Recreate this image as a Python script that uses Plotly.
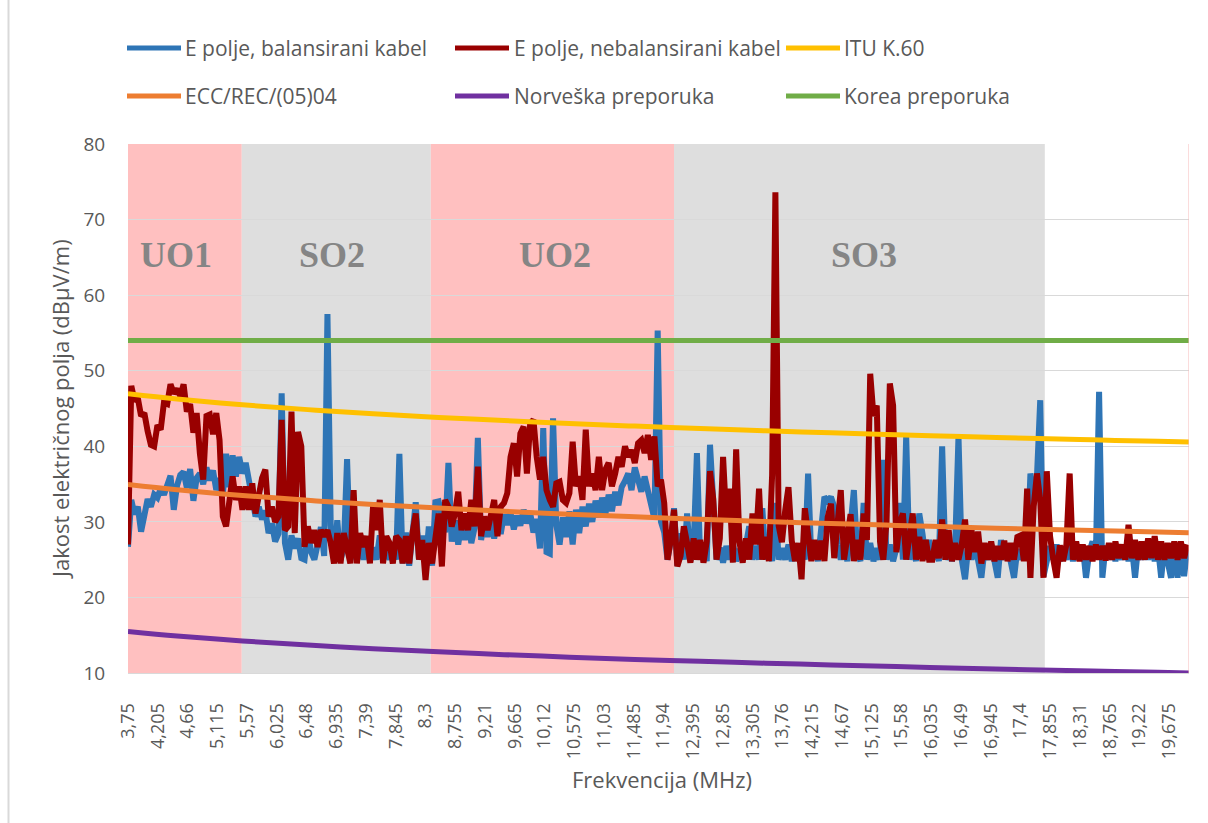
import numpy as np
import plotly.graph_objects as go

# ---------------------------------------------------------------------------
# Measurement grid
# ---------------------------------------------------------------------------
FREQ_START = 3.75   # MHz, first sample
FREQ_STEP = 0.05    # MHz between samples

# Electric field strength, balanced cable (dBuV/m), rows of 0.5 MHz
e_balanced = [
    26.7, 32.9, 31.0, 32.0, 28.7, 30.5, 33.0, 32.0, 33.6, 33.2,
    34.4, 33.6, 34.6, 36.1, 31.6, 34.8, 36.2, 36.6, 34.5, 37.0,
    32.8, 35.8, 36.4, 35.0, 37.2, 35.5, 36.8, 34.2, 35.8, 33.5,
    39.0, 34.6, 38.8, 36.0, 38.6, 36.4, 37.8, 35.2, 33.8, 30.7,
    32.0, 30.3, 31.5, 28.5, 29.8, 27.4, 28.4, 47.0, 27.2, 25.0,
    28.2, 26.5, 27.8, 25.2, 25.0, 28.8, 26.0, 25.0, 27.0, 29.3,
    25.5, 57.5, 29.5, 25.0, 30.2, 25.0, 26.5, 38.3, 25.0, 27.5,
    25.0, 26.8, 25.0, 27.4, 24.8, 26.6, 25.0, 28.2, 25.0, 26.4,
    25.0, 27.0, 25.0, 39.0, 24.5, 28.6, 24.2, 29.5, 32.6, 25.0,
    28.2, 24.2, 29.4, 24.2, 32.6, 32.7, 31.0, 28.6, 37.8, 27.4,
    30.2, 27.0, 29.8, 27.6, 30.6, 27.2, 29.2, 41.1, 27.6, 30.4,
    28.0, 30.2, 27.8, 30.6, 28.4, 31.0, 29.6, 31.2, 29.0, 30.8,
    29.5, 31.6, 29.8, 31.2, 28.6, 30.4, 26.5, 42.4, 26.0, 25.8,
    43.7, 29.6, 27.0, 30.6, 28.0, 31.4, 27.0, 31.6, 28.5, 32.0,
    29.4, 32.4, 30.0, 32.8, 30.6, 33.2, 31.0, 33.6, 31.4, 34.0,
    32.2, 34.6, 35.4, 36.4, 34.2, 37.2, 35.6, 34.0, 36.0, 33.8,
    32.0, 30.4, 55.3, 30.0, 28.6, 25.0, 27.5, 31.8, 24.2, 28.5,
    25.0, 31.1, 24.8, 26.8, 39.1, 25.0, 27.0, 24.8, 40.2, 32.5,
    25.0, 26.6, 24.6, 26.8, 25.0, 27.2, 24.8, 26.4, 25.0, 27.0,
    29.4, 25.0, 26.8, 25.0, 31.8, 25.0, 26.8, 24.8, 32.5, 25.0,
    26.5, 25.0, 27.0, 24.8, 26.6, 25.0, 27.0, 25.0, 36.4, 25.0,
    26.8, 24.8, 29.0, 33.3, 32.8, 33.3, 32.0, 27.0, 25.0, 27.4,
    24.8, 29.5, 34.2, 26.0, 24.8, 32.5, 25.0, 27.2, 24.8, 26.5,
    25.0, 38.2, 25.0, 27.0, 24.8, 26.5, 32.5, 25.0, 41.3, 25.0,
    27.0, 24.8, 31.1, 28.4, 25.0, 27.6, 25.0, 27.0, 24.8, 40.0,
    25.0, 26.6, 24.8, 27.0, 41.3, 25.0, 22.4, 26.8, 25.0, 27.2,
    24.8, 22.6, 26.5, 25.0, 27.0, 25.0, 22.6, 27.6, 25.0, 26.8,
    24.8, 22.6, 26.4, 25.0, 27.0, 25.0, 36.4, 33.0, 36.0, 46.1,
    22.8, 25.0, 26.8, 25.0, 27.0, 24.8, 26.6, 25.0, 27.0, 24.8,
    26.6, 25.0, 26.8, 22.6, 26.0, 27.4, 25.0, 47.2, 22.6, 26.8,
    25.0, 27.0, 24.8, 26.6, 25.0, 27.0, 24.8, 26.8, 22.6, 27.0,
    25.0, 26.8, 25.0, 27.0, 24.8, 26.6, 22.6, 26.8, 25.0, 22.6,
    26.8, 22.6, 27.0, 22.8, 26.6,
]

# Electric field strength, unbalanced cable (dBuV/m), same grid
e_unbalanced = [
    27.0, 48.0, 46.0, 46.4, 44.0, 44.4, 42.0, 40.2, 40.0, 42.8,
    42.2, 45.8, 45.6, 48.2, 47.0, 47.6, 46.6, 48.2, 44.6, 45.6,
    41.8, 44.4, 39.0, 35.6, 44.0, 44.2, 41.6, 44.4, 40.8, 30.7,
    29.4, 33.3, 36.0, 32.9, 34.7, 31.6, 34.7, 31.6, 35.1, 31.1,
    33.3, 35.8, 36.9, 30.7, 32.0, 30.0, 30.7, 43.5, 28.9, 29.4,
    44.6, 28.5, 41.9, 40.0, 26.7, 29.4, 27.2, 28.9, 26.7, 28.9,
    28.1, 28.9, 27.2, 24.5, 28.5, 24.5, 28.5, 26.7, 24.5, 34.2,
    24.5, 28.5, 26.7, 28.1, 24.5, 32.5, 28.9, 32.9, 24.5, 28.1,
    27.2, 24.5, 28.1, 27.6, 24.5, 28.1, 24.5, 28.5, 31.1, 25.0,
    27.6, 22.3, 27.2, 24.5, 27.2, 31.1, 24.1, 32.9, 32.0, 29.4,
    31.1, 34.0, 28.9, 31.1, 28.9, 32.9, 29.4, 37.3, 28.1, 30.7,
    28.9, 31.1, 32.9, 28.1, 32.0, 32.5, 33.8, 38.6, 40.4, 36.0,
    41.7, 42.6, 36.4, 43.0, 43.5, 38.6, 35.6, 38.6, 34.2, 32.9,
    32.0, 35.1, 35.3, 32.9, 32.5, 33.8, 40.6, 34.7, 36.0, 32.9,
    42.2, 34.7, 36.4, 34.2, 38.6, 34.2, 36.9, 37.8, 34.7, 36.4,
    38.6, 37.3, 40.0, 38.6, 39.5, 37.8, 40.4, 40.8, 39.1, 41.5,
    38.2, 41.3, 34.7, 35.6, 32.5, 25.0, 27.6, 31.6, 24.1, 25.5,
    29.4, 27.2, 24.6, 27.8, 25.0, 27.6, 24.6, 27.4, 36.7, 33.0,
    25.0, 27.8, 38.6, 30.0, 34.4, 24.6, 39.6, 27.4, 24.6, 27.8,
    25.0, 31.1, 27.0, 34.4, 25.0, 28.0, 24.8, 36.2, 73.6, 29.5,
    27.3, 31.5, 34.6, 27.5, 24.8, 27.2, 22.4, 31.8, 27.8, 24.8,
    27.6, 25.0, 27.5, 24.8, 30.6, 32.4, 25.2, 29.5, 34.2, 25.0,
    27.6, 31.0, 24.8, 27.6, 25.0, 31.1, 27.6, 49.6, 44.0, 45.4,
    27.4, 25.0, 30.0, 48.3, 45.4, 26.0, 29.8, 31.1, 25.0, 27.6,
    31.1, 25.0, 28.0, 24.8, 27.6, 25.0, 25.0, 27.6, 25.2, 30.3,
    25.0, 28.9, 24.8, 27.2, 25.0, 27.0, 30.3, 25.0, 28.9, 26.0,
    28.7, 24.5, 27.2, 25.0, 27.4, 24.8, 26.8, 25.0, 27.5, 24.8,
    27.2, 25.0, 28.0, 28.2, 24.8, 34.4, 22.6, 32.0, 36.4, 32.9,
    22.6, 36.7, 28.1, 25.0, 22.6, 26.9, 24.8, 27.0, 36.4, 25.0,
    27.4, 24.8, 27.0, 25.0, 26.8, 24.8, 27.0, 25.0, 26.8, 24.9,
    27.2, 25.0, 27.4, 25.2, 27.0, 25.0, 29.6, 25.2, 27.6, 25.0,
    27.4, 25.0, 27.8, 25.2, 28.1, 25.0, 27.4, 25.0, 27.2, 25.2,
    27.4, 25.0, 27.4, 25.2, 27.0,
]

freq = np.round(FREQ_START + FREQ_STEP * np.arange(len(e_balanced)), 3)

# Limit curves (dBuV/m)
limit_freq = [3.75, 4.5, 5.5, 6.5, 7.5, 8.5, 9.5, 10.5, 11.5, 12.5,
              13.5, 14.5, 15.5, 16.5, 17.5, 18.5, 19.5, 19.975]
itu_k60 = [46.95, 46.25, 45.49, 44.85, 44.30, 43.82, 43.40, 43.01, 42.67, 42.35,
           42.05, 41.78, 41.53, 41.29, 41.06, 40.85, 40.65, 40.56]
ecc_rec = [34.95, 34.25, 33.49, 32.85, 32.30, 31.82, 31.40, 31.01, 30.67, 30.35,
           30.05, 29.78, 29.53, 29.29, 29.06, 28.85, 28.65, 28.56]
norway = [15.50, 14.90, 14.24, 13.69, 13.21, 12.80, 12.43, 12.10, 11.80, 11.55,
          11.30, 11.07, 10.85, 10.64, 10.44, 10.26, 10.09, 10.00]
korea_freq = [3.75, 19.975]
korea = [54.0, 54.0]

# Frequency bands shaded in the background
band_names = ["UO1", "SO2", "UO2", "SO3"]
band_start = [3.75, 5.49, 8.38, 12.10]
band_end = [5.49, 8.38, 12.10, 17.77]
band_label_freq = [4.48, 6.87, 10.28, 15.00]

tick_labels = ["3,75", "4,205", "4,66", "5,115", "5,57", "6,025", "6,48", "6,935",
               "7,39", "7,845", "8,3", "8,755", "9,21", "9,665", "10,12", "10,575",
               "11,03", "11,485", "11,94", "12,395", "12,85", "13,305", "13,76",
               "14,215", "14,67", "15,125", "15,58", "16,035", "16,49", "16,945",
               "17,4", "17,855", "18,31", "18,765", "19,22", "19,675"]
tick_vals = [float(t.replace(",", ".")) for t in tick_labels]

# ---------------------------------------------------------------------------
# Figure geometry
# ---------------------------------------------------------------------------
W, H = 1208, 823
PL, PR, PT, PB = 128, 19, 144, 150
X_MAX = 19.975
TEXT = "#595959"
FONT = "Open Sans"


def px_x(px):
    return (px - PL) / (W - PL - PR)


def px_y(py):
    return (H - PB - py) / (H - PT - PB)


series = [
    dict(name="E polje, balansirani kabel", x=freq, y=e_balanced, color="#2E75B6", width=6),
    dict(name="E polje, nebalansirani kabel", x=freq, y=e_unbalanced, color="#990000", width=6),
    dict(name="ITU K.60", x=limit_freq, y=itu_k60, color="#FFC000", width=5),
    dict(name="ECC/REC/(05)04", x=limit_freq, y=ecc_rec, color="#ED7D31", width=5),
    dict(name="Norveška preporuka", x=limit_freq, y=norway, color="#7030A0", width=5),
    dict(name="Korea preporuka", x=korea_freq, y=korea, color="#70AD47", width=5),
]

fig = go.Figure()
for s in series:
    smooth = len(s["x"]) < 50
    fig.add_trace(go.Scatter(
        x=s["x"], y=s["y"], name=s["name"], mode="lines",
        line=dict(color=s["color"], width=s["width"],
                  shape="spline" if smooth else "linear"),
        showlegend=False,
    ))

shapes = []
band_fill = ["#FFC0C0", "#DEDEDE", "#FFC0C0", "#DEDEDE"]
for x0, x1, c in zip(band_start, band_end, band_fill):
    shapes.append(dict(type="rect", xref="x", yref="y", x0=x0, x1=x1, y0=10, y1=80,
                       fillcolor=c, line=dict(width=0), layer="below"))
# thin edge on the right of the plot area
shapes.append(dict(type="line", xref="x", yref="y", x0=X_MAX, x1=X_MAX, y0=10, y1=80,
                   line=dict(color="#F6B8B8", width=1), layer="above"))
# chart frame on the left
shapes.append(dict(type="line", xref="paper", yref="paper",
                   x0=px_x(8.5), x1=px_x(8.5), y0=px_y(823), y1=px_y(0),
                   line=dict(color="#D9D9D9", width=2)))

annotations = []
for name, fx in zip(band_names, band_label_freq):
    annotations.append(dict(x=fx, y=65.3, xref="x", yref="y", text=f"<b>{name}</b>",
                            showarrow=False, xanchor="center", yanchor="middle",
                            font=dict(family="Liberation Serif", size=36, color="#858585")))

# legend, three entries per row
legend_cols = [(127, 181, 183), (455, 509, 512), (786, 840, 842)]
legend_rows = [48, 96]
for i, s in enumerate(series):
    lx0, lx1, tx = legend_cols[i % 3]
    ly = legend_rows[i // 3]
    shapes.append(dict(type="line", xref="paper", yref="paper",
                       x0=px_x(lx0), x1=px_x(lx1), y0=px_y(ly), y1=px_y(ly),
                       line=dict(color=s["color"], width=5)))
    annotations.append(dict(x=px_x(tx), y=px_y(ly), xref="paper", yref="paper",
                            text=s["name"], showarrow=False, xanchor="left", yanchor="middle",
                            font=dict(family=FONT, size=21, color=TEXT)))

# axis titles
annotations.append(dict(x=px_x(662), y=px_y(779), xref="paper", yref="paper",
                        text="Frekvencija (MHz)", showarrow=False,
                        xanchor="center", yanchor="middle",
                        font=dict(family=FONT, size=22, color=TEXT)))
annotations.append(dict(x=px_x(60), y=px_y(409), xref="paper", yref="paper",
                        text="Jakost električnog polja (dBµV/m)", showarrow=False,
                        xanchor="center", yanchor="middle",
                        textangle=-90, font=dict(family=FONT, size=22, color=TEXT)))

fig.update_layout(
    width=W, height=H,
    margin=dict(l=PL, r=PR, t=PT, b=PB),
    paper_bgcolor="white", plot_bgcolor="white",
    showlegend=False,
    shapes=shapes, annotations=annotations,
    font=dict(family=FONT, color=TEXT),
)
fig.update_xaxes(
    range=[FREQ_START, X_MAX], tickmode="array", tickvals=tick_vals, ticktext=tick_labels,
    tickangle=-90, tickfont=dict(family=FONT, size=18, color=TEXT),
    showgrid=False, zeroline=False, showline=True, linecolor="#D9D9D9", linewidth=1,
    ticks="outside", ticklen=22, tickcolor="rgba(0,0,0,0)", automargin=False,
)
fig.update_yaxes(
    range=[10, 80], tickmode="array", tickvals=list(range(10, 81, 10)),
    tickfont=dict(family=FONT, size=19, color=TEXT),
    showgrid=True, gridcolor="#D9D9D9", gridwidth=1, zeroline=False, showline=False,
    ticks="outside", ticklen=18, tickcolor="rgba(0,0,0,0)", automargin=False,
)

fig.write_html("out.html")
